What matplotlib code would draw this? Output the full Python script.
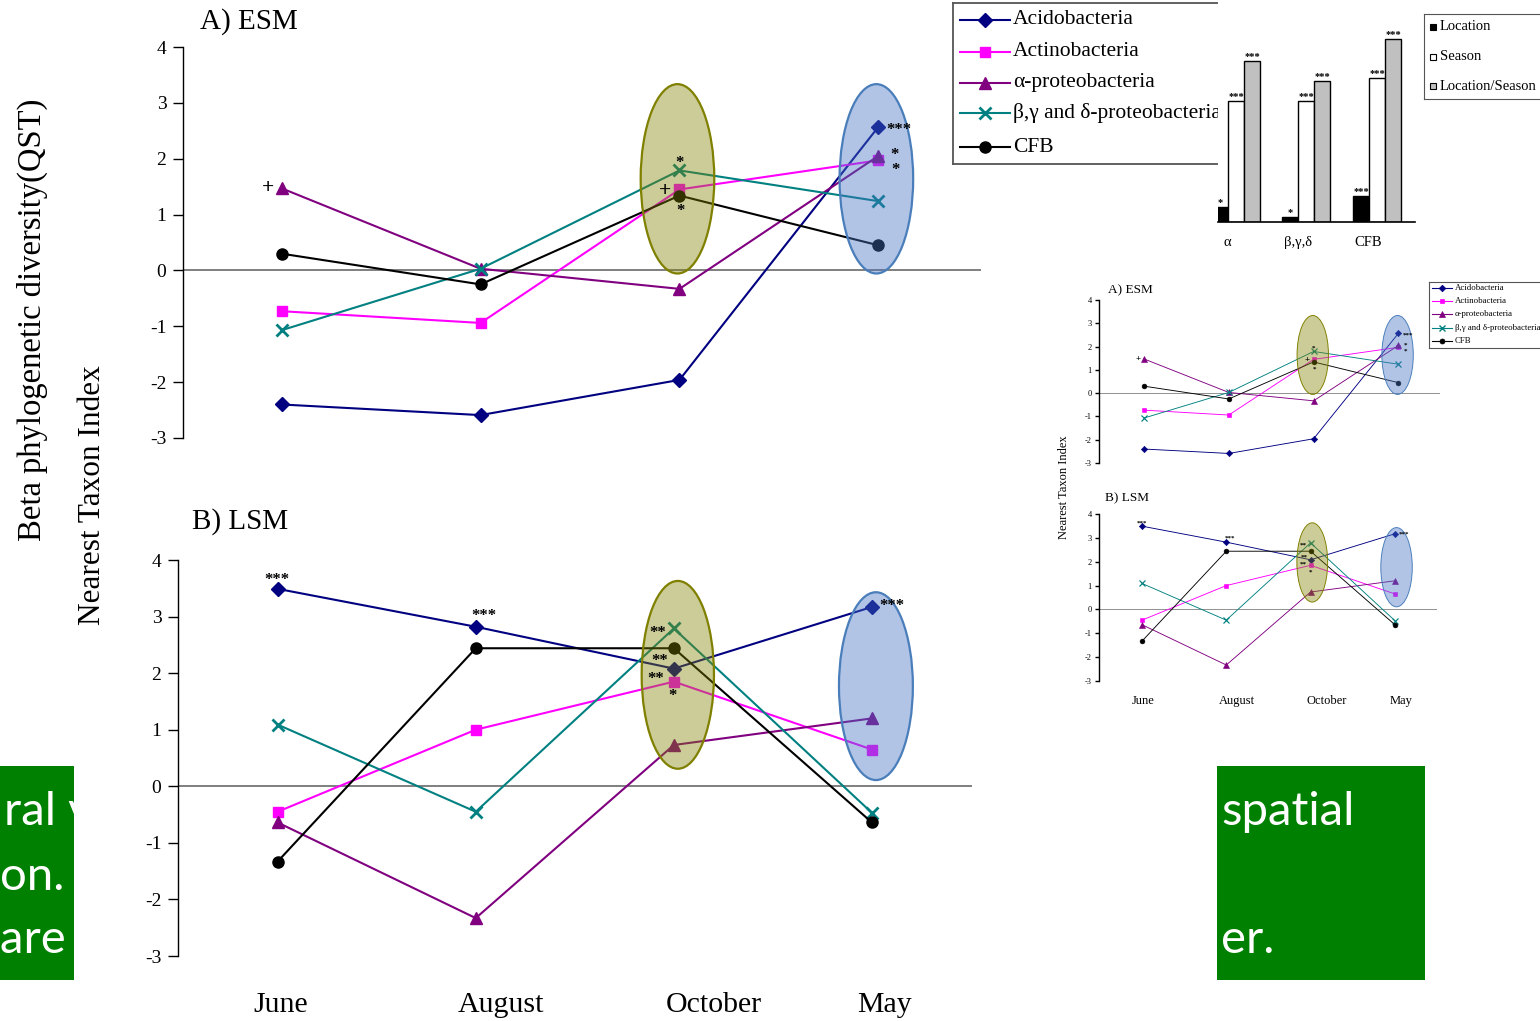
import numpy as np
import matplotlib
matplotlib.use('Agg')
import matplotlib.pyplot as plt
from matplotlib.patches import Ellipse

plt.rcParams['font.family'] = ['Liberation Serif', 'DejaVu Serif']
plt.rcParams['axes.unicode_minus'] = False

W, H = 1540, 1021

months = ['June', 'August', 'October', 'May']
taxa = ['Acidobacteria', 'Actinobacteria', 'α-proteobacteria',
        'β,γ and δ-proteobacteria', 'CFB']

# A) ESM, nearest taxon index per month
esm_acido = [-2.40, -2.59, -1.96, 2.57]
esm_actino = [-0.73, -0.94, 1.45, 1.97]
esm_alpha = [1.47, 0.03, -0.33, 2.05]
esm_bgd = [-1.07, 0.03, 1.79, 1.24]
esm_cfb = [0.30, -0.25, 1.34, 0.45]

# B) LSM
lsm_acido = [3.49, 2.82, 2.08, 3.17]
lsm_actino = [-0.45, 1.00, 1.85, 0.65]
lsm_alpha = [-0.64, -2.33, 0.73, 1.20]
lsm_bgd = [1.09, -0.45, 2.79, -0.47]
lsm_cfb = [-1.33, 2.44, 2.44, -0.64]

# significance marks: (taxon, month, label)
esm_marks = [(2, 0, '+'), (3, 2, '*'), (1, 2, '+'), (4, 2, '*'),
             (0, 3, '***'), (2, 3, '*'), (1, 3, '*')]
lsm_marks = [(0, 0, '***'), (0, 1, '***'), (3, 2, '**'), (4, 2, '**'),
             (0, 2, '**'), (1, 2, '*'), (0, 3, '***')]

# QST bar chart
bar_groups = ['α', 'β,γ,δ', 'CFB']
bar_factors = ['Location', 'Season', 'Location/Season']
qst_location = [15, 5, 26]
qst_season = [121, 121, 144]
qst_loc_season = [161, 141, 183]
qst_stars = [['*', '*', '***'], ['***', '***', '***'], ['***', '***', '***']]

# ---- styling / layout ----
colors = ['#000080', '#ff00ff', '#800080', '#008080', '#000000']
markers = ['D', 's', '^', 'x', 'o']
msizes = [7.5, 7.5, 9, 9, 8]
# pixel offsets (dx, dy up) of significance marks from their point
esm_offs = [(-14, 2), (0, 11), (-14, 0), (1, -12), (21, 0), (16, 4), (17, -6)]
lsm_offs = [(-1, 12), (8, 14), (-16, -1), (-14, -9), (-18, -7), (-1, -11), (20, 4)]
esm_ovals = [(1.99, 1.64, 0.37, 3.39), (2.99, 1.64, 0.37, 3.39)]
lsm_ovals = [(2.02, 1.97, 0.365, 3.32), (3.02, 1.77, 0.373, 3.32)]
oval_fc = [(0.5, 0.5, 0.0, 0.40), (0.27, 0.45, 0.77, 0.42)]
oval_ec = ['#808000', '#4a7ebb']

fig = plt.figure(figsize=(W / 100, H / 100), dpi=100)


def pax(x0, y0, x1, y1, **kw):
    return fig.add_axes([x0 / W, 1 - y1 / H, (x1 - x0) / W, (y1 - y0) / H], **kw)


def ftxt(x, y, s, **kw):
    return fig.text(x / W, 1 - y / H, s, **kw)


def line_panel(ax, series, marks, offs, ovals, k, xlim, tick_fs, mark_fs):
    ax.patch.set_alpha(0)
    xs = np.arange(len(months))
    for vals, c, m, ms in zip(series, colors, markers, msizes):
        ax.plot(xs, vals, color=c, marker=m, ms=ms * k, lw=1.5 * k,
                mew=(2 * k if m == 'x' else 1 * k), zorder=3, clip_on=False)
    ax.axhline(0, color='#7f7f7f', lw=1.4 * k, zorder=2)
    for (cx, cy, w, h), fc, ec in zip(ovals, oval_fc, oval_ec):
        ax.add_patch(Ellipse((cx, cy), w, h, facecolor=fc, edgecolor=ec,
                             lw=1.6 * k, zorder=4))
    for (t, mo, lab), (dx, dy) in zip(marks, offs):
        fs = mark_fs * (1.3 if lab == '+' else 1.0)
        fpx = fs * 100 / 72
        shift = 0.45 * fpx if '*' in lab else 0.3 * fpx
        ax.annotate(lab, (mo, series[t][mo]), xytext=(dx * k, dy * k - shift),
                    textcoords='offset pixels', ha='center', va='baseline',
                    fontsize=fs, fontweight='bold', zorder=5,
                    annotation_clip=False)
    ax.set_xlim(*xlim)
    ax.set_ylim(-3, 4)
    ax.set_yticks(range(-3, 5))
    ax.set_xticks([])
    for s in ['top', 'right', 'bottom']:
        ax.spines[s].set_visible(False)
    ax.spines['left'].set_linewidth(1.0)
    ax.tick_params(axis='y', direction='out', length=7 * k, width=1,
                   labelsize=tick_fs, pad=5 * k)


esm = [esm_acido, esm_actino, esm_alpha, esm_bgd, esm_cfb]
lsm = [lsm_acido, lsm_actino, lsm_alpha, lsm_bgd, lsm_cfb]

# main panels
axA = pax(183, 47, 981, 438)
line_panel(axA, esm, esm_marks, esm_offs, esm_ovals, 1.0, (-0.496, 3.516), 14, 12)
axB = pax(178, 560, 972, 956)
line_panel(axB, lsm, lsm_marks, lsm_offs, lsm_ovals, 1.0, (-0.503, 3.505), 14, 12)

ftxt(200, 22, 'A) ESM', fontsize=21, ha='left', va='center')
ftxt(192, 522, 'B) LSM', fontsize=21, ha='left', va='center')
ftxt(32, 320, 'Beta phylogenetic diversity(QST)', fontsize=23.5, rotation=90,
     ha='center', va='center')
ftxt(92, 495, 'Nearest Taxon Index', fontsize=22.5, rotation=90,
     ha='center', va='center')
for m, x in zip(months, [281, 501, 714, 885]):
    ftxt(x, 1005, m, fontsize=21.5, ha='center', va='center')

# main legend
lax = pax(953, 3, 1240, 164)
lax.set_xlim(953, 1240)
lax.set_ylim(164, 3)
lax.set_xticks([])
lax.set_yticks([])
for s in lax.spines.values():
    s.set_color('#555555')
    s.set_linewidth(1.3)
for name, c, m, ms, y in zip(taxa, colors, markers, msizes, [20, 52, 83, 113, 147]):
    lax.plot([960, 1010], [y, y], color=c, lw=1.5)
    lax.plot([985], [y], color=c, marker=m, ms=ms, mew=(2 if m == 'x' else 1))
    lax.text(1013, y, name, fontsize=15.5, ha='left', va='center')

# white background of the bar-chart picture
cover = pax(1218, 0, 1540, 262)
cover.set_facecolor('white')
cover.set_xticks([])
cover.set_yticks([])
for s in cover.spines.values():
    s.set_visible(False)
cover.set_zorder(5)

bax = pax(1218, 30, 1415, 222)
bax.set_zorder(6)
bax.patch.set_alpha(0)
bx = np.arange(len(bar_groups))
bw = 0.227
bar_fc = ['black', 'white', '#c0c0c0']
for i, (vals, fc) in enumerate(zip([qst_location, qst_season, qst_loc_season], bar_fc)):
    pos = bx + (i - 1) * bw
    bax.bar(pos, vals, bw, color=fc, edgecolor='black', lw=1, label=bar_factors[i])
    for p, v, st in zip(pos, vals, qst_stars[i]):
        bax.text(p, v, st, ha='center', va='bottom', fontsize=7.5,
                 fontweight='bold', clip_on=True)
bax.set_xlim(-0.255, 2.54)
bax.set_ylim(0, 192)
bax.set_yticks([])
bax.set_xticks(bx - 0.12, bar_groups)
bax.tick_params(axis='x', length=0, labelsize=10.5, pad=10)
for s in ['top', 'right', 'left']:
    bax.spines[s].set_visible(False)
bax.spines['bottom'].set_linewidth(1.2)

# bar legend
blg = pax(1424, 14, 1560, 99)
blg.set_zorder(6)
blg.set_xlim(1424, 1560)
blg.set_ylim(99, 14)
blg.set_xticks([])
blg.set_yticks([])
for s in blg.spines.values():
    s.set_color('#555555')
for name, fc, y in zip(bar_factors, bar_fc, [27, 57, 86]):
    blg.plot([1433], [y], marker='s', ms=5, mfc=fc, mec='black', mew=0.8)
    blg.text(1440, y, name, fontsize=10.5, ha='left', va='center')

# small copy of the figure on the right
k = 0.43
maA = pax(1099, 300, 1440, 463)
line_panel(maA, esm, esm_marks, esm_offs, esm_ovals, k, (-0.53, 3.49), 6, 5)
maB = pax(1099, 514, 1437, 681)
line_panel(maB, lsm, lsm_marks, lsm_offs, lsm_ovals, k, (-0.51, 3.50), 6, 5)
ftxt(1108, 290, 'A) ESM', fontsize=9.5, ha='left', va='center')
ftxt(1105, 498, 'B) LSM', fontsize=9.5, ha='left', va='center')
ftxt(1064, 487, 'Nearest Taxon Index', fontsize=9, rotation=90,
     ha='center', va='center')
for m, x in zip(months, [1143, 1237, 1327, 1401]):
    ftxt(x, 701, m, fontsize=9, ha='center', va='center')

mlg = pax(1429, 282, 1560, 348)
mlg.set_xlim(1429, 1560)
mlg.set_ylim(348, 282)
mlg.set_xticks([])
mlg.set_yticks([])
for s in mlg.spines.values():
    s.set_color('#555555')
    s.set_linewidth(0.8)
for name, c, m, ms, y in zip(taxa, colors, markers, msizes, [288, 301, 314, 328, 341]):
    mlg.plot([1432, 1452], [y, y], color=c, lw=0.8)
    mlg.plot([1442], [y], color=c, marker=m, ms=ms * 0.45, mew=(1 if m == 'x' else 0.5))
    mlg.text(1455, y, name, fontsize=6.3, ha='left', va='center')


# green slide text boxes overlapping the figure
def green_box(x0, y0, x1, y1, lines):
    g = pax(x0, y0, x1, y1)
    g.set_facecolor('#008000')
    g.set_xticks([])
    g.set_yticks([])
    for s in g.spines.values():
        s.set_visible(False)
    g.set_zorder(8)
    for tx, ty, s in lines:
        g.text((tx - x0) / (x1 - x0), (y1 - ty) / (y1 - y0), s,
               transform=g.transAxes, color='white', fontsize=34,
               family=['Lato', 'DejaVu Sans'], ha='left', va='baseline',
               clip_on=True)


green_box(0, 766, 74, 980, [(4, 825, 'ral va'), (0, 890, 'on.'), (0, 953, 'are t')])
green_box(1217, 766, 1425, 980, [(1221, 825, 'spatial'), (1221, 953, 'er.')])

fig.savefig('out.png', dpi=100)
